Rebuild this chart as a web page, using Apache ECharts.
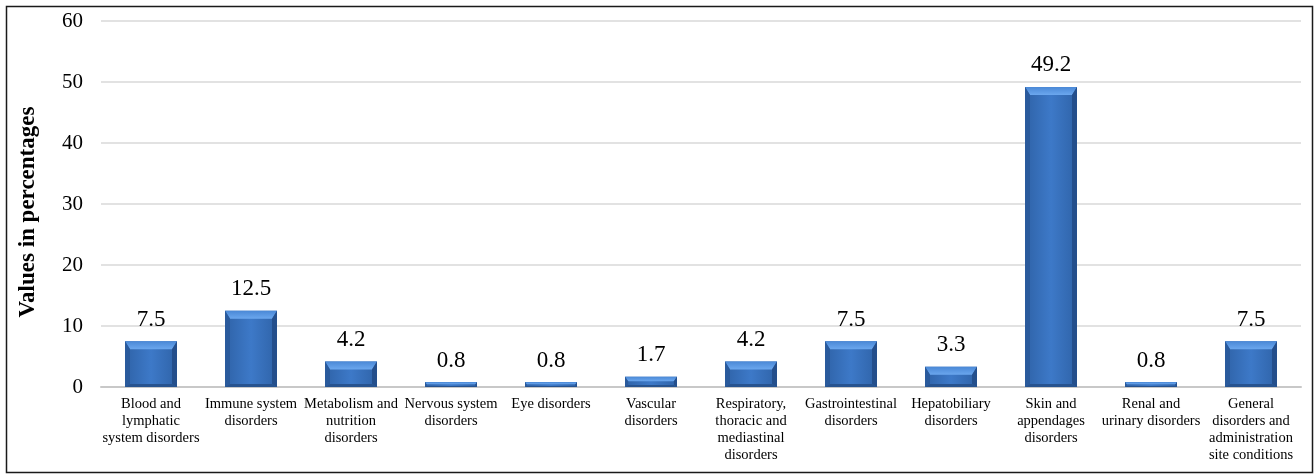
<!DOCTYPE html>
<html>
<head>
<meta charset="utf-8">
<script src="https://cdn.jsdelivr.net/npm/echarts@6/dist/echarts.min.js"></script>
<style>
  html, body { margin: 0; padding: 0; background: #fff; }
  #chart { width: 1315px; height: 475px; }
</style>
</head>
<body>
<div id="chart"></div>
<script>
// Adverse event categories by system organ class
const categories = [
  'Blood and\nlymphatic\nsystem disorders',
  'Immune system\ndisorders',
  'Metabolism and\nnutrition\ndisorders',
  'Nervous system\ndisorders',
  'Eye disorders',
  'Vascular\ndisorders',
  'Respiratory,\nthoracic and\nmediastinal\ndisorders',
  'Gastrointestinal\ndisorders',
  'Hepatobiliary\ndisorders',
  'Skin and\nappendages\ndisorders',
  'Renal and\nurinary disorders',
  'General\ndisorders and\nadministration\nsite conditions'
];
const percentages = [7.5, 12.5, 4.2, 0.8, 0.8, 1.7, 4.2, 7.5, 3.3, 49.2, 0.8, 7.5];
const yTicks = [0, 10, 20, 30, 40, 50, 60];

const SERIF = '"Liberation Serif", "Times New Roman", serif';
const BAR_W = 52;

// Bevelled bar: centre face plus four edge facets, value printed above
function renderBevelBar(params, api) {
  const idx = api.value(0);
  const val = api.value(1);
  const top = api.coord([idx, val]);
  const base = api.coord([idx, 0]);
  const cx = top[0];
  const x0 = cx - BAR_W / 2, x1 = cx + BAR_W / 2;
  const y0 = top[1], y1 = base[1];
  const h = y1 - y0;
  const bt = Math.min(8, h * 0.45);
  const bb = Math.min(3, h * 0.2);
  const bs = Math.min(5, h * 0.3);
  const label = {
    type: 'text',
    style: {
      text: String(val),
      x: cx, y: y0 - 10,
      align: 'center', verticalAlign: 'bottom',
      font: '23px ' + SERIF, fill: '#000'
    }
  };
  return {
    type: 'group',
    children: [
      { type: 'rect', shape: { x: x0, y: y0, width: BAR_W, height: h },
        style: { fill: new echarts.graphic.LinearGradient(0, 0, 1, 0, [
          { offset: 0, color: '#2f63a8' }, { offset: 0.5, color: '#3d79c8' }, { offset: 1, color: '#2f63a8' }]) } },
      { type: 'polygon', shape: { points: [[x0, y0], [x1, y0], [x1 - bs, y0 + bt], [x0 + bs, y0 + bt]] },
        style: { fill: new echarts.graphic.LinearGradient(0, 0, 0, 1, [
          { offset: 0, color: '#4a88d6' }, { offset: 1, color: '#6ba7ee' }]) } },
      { type: 'polygon', shape: { points: [[x0, y0], [x0 + bs, y0 + bt], [x0 + bs, y1 - bb], [x0, y1]] },
        style: { fill: '#2a5a9c' } },
      { type: 'polygon', shape: { points: [[x1, y0], [x1 - bs, y0 + bt], [x1 - bs, y1 - bb], [x1, y1]] },
        style: { fill: '#244f8c' } },
      { type: 'polygon', shape: { points: [[x0, y1], [x0 + bs, y1 - bb], [x1 - bs, y1 - bb], [x1, y1]] },
        style: { fill: '#27538f' } },
      label
    ]
  };
}

const chart = echarts.init(document.getElementById('chart'), null, { renderer: 'canvas' });
chart.setOption({
  animation: false,
  backgroundColor: '#fff',
  grid: { left: 101, right: 14, top: 21, bottom: 88 },
  xAxis: {
    type: 'category',
    data: categories,
    axisLine: { show: true, lineStyle: { color: '#c8c8c8', width: 2 } },
    axisTick: { show: false },
    axisLabel: {
      interval: 0, margin: 9,
      fontFamily: SERIF, fontSize: 14.5, lineHeight: 17, color: '#000'
    }
  },
  yAxis: {
    type: 'value',
    min: yTicks[0], max: yTicks[yTicks.length - 1], interval: 10,
    axisLine: { show: false },
    axisTick: { show: false },
    splitLine: { lineStyle: { color: '#d9d9d9', width: 1.5 } },
    axisLabel: { margin: 18, fontFamily: SERIF, fontSize: 21, color: '#000' }
  },
  graphic: [
    { type: 'rect', left: 4, top: 4, shape: { width: 1306, height: 466 },
      style: { fill: 'none', stroke: '#1a1a1a', lineWidth: 1.5 }, silent: true },
    { type: 'text', x: 28, y: 212, rotation: Math.PI / 2,
      style: { text: 'Values in percentages', align: 'center', verticalAlign: 'middle',
        font: 'bold 23px ' + SERIF, fill: '#000' } }
  ],
  series: [{
    type: 'custom',
    renderItem: renderBevelBar,
    data: percentages.map((v, i) => [i, v]),
    encode: { x: 0, y: 1 },
    clip: false
  }]
});
</script>
</body>
</html>
